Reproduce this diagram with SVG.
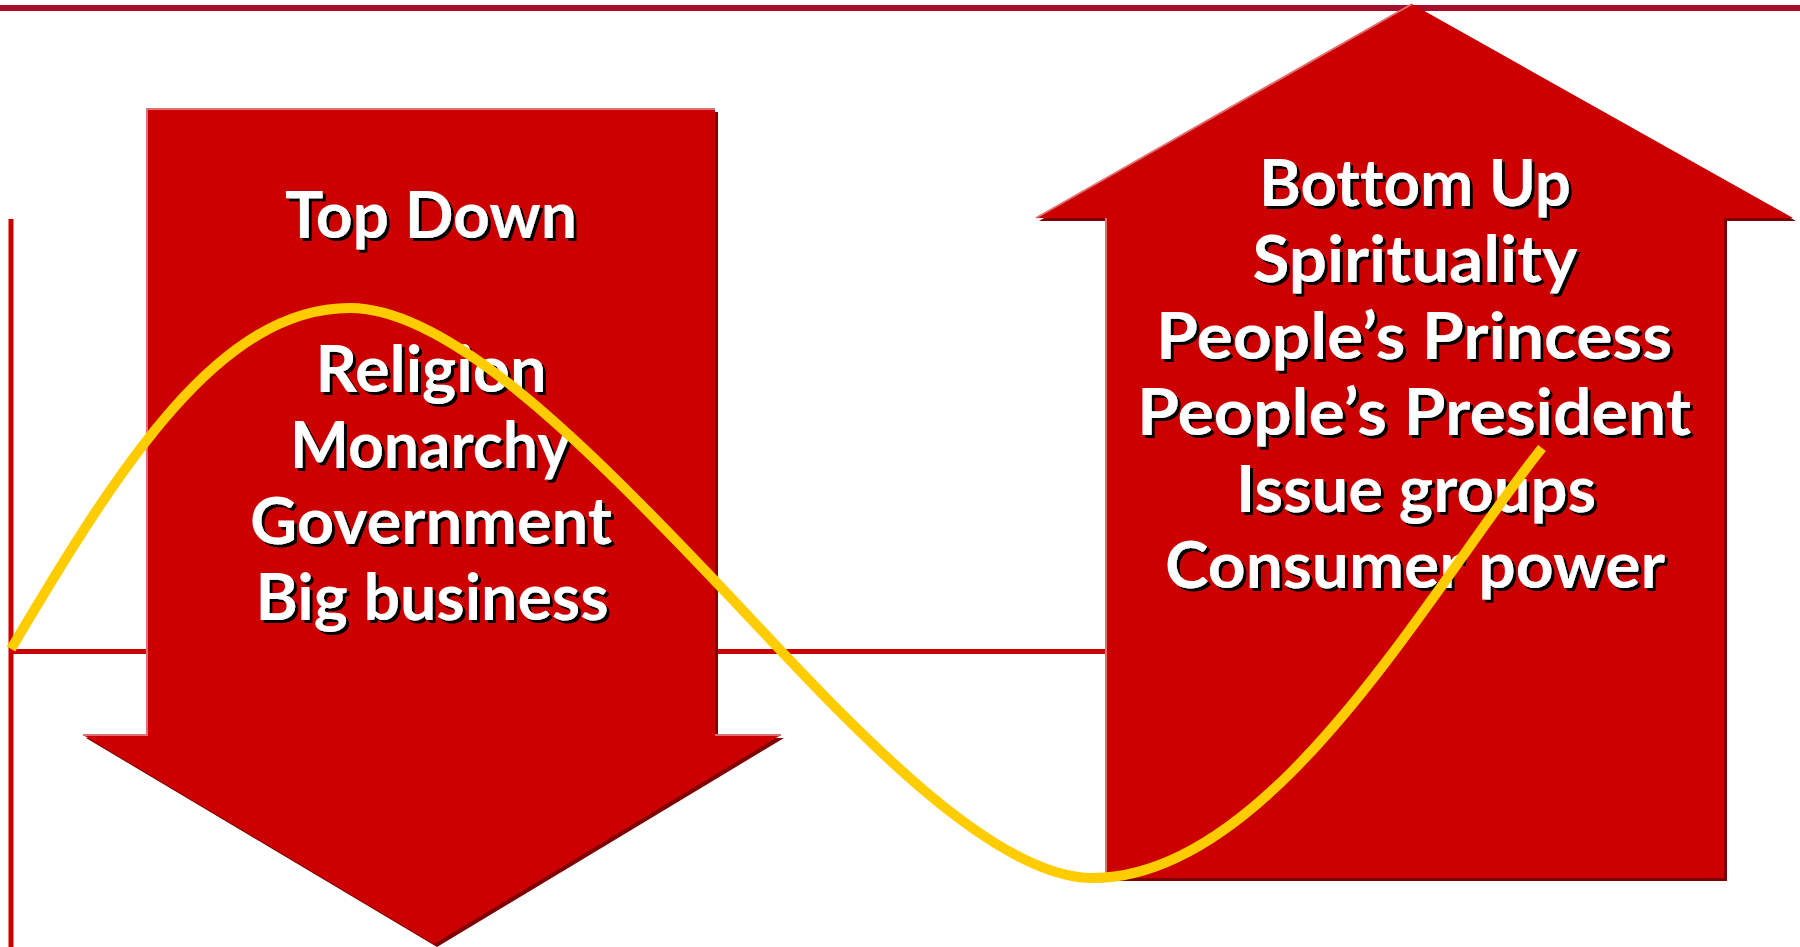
<svg xmlns="http://www.w3.org/2000/svg" width="1800" height="947" viewBox="0 0 1800 947">
  <defs>
    <filter id="txtShadow" x="-5%" y="-20%" width="110%" height="140%">
      <feDropShadow dx="3" dy="3" stdDeviation="0" flood-color="#000000" flood-opacity="1"/>
    </filter>
    <style>
      .bg { fill: #ffffff; }
      .rule-top { stroke: #A50F2D; stroke-width: 6; fill: none; }
      .rule { stroke: #CC0000; stroke-width: 5; fill: none; }
      .arrow-shadow { fill: #7F0000; }
      .arrow-body { fill: #CC0000; }
      .arrow-light { fill: none; stroke: #E07070; stroke-width: 2; }
      .label { font-family: Lato, "Noto Sans", "DejaVu Sans", sans-serif; font-weight: bold; font-size: 65px; fill: #ffffff; text-anchor: middle; font-variant-ligatures: none; }
      .wave { fill: none; stroke: #FFCC00; stroke-width: 10; stroke-linecap: butt; stroke-linejoin: round; }
    </style>
  </defs>

  <rect class="bg" x="0" y="0" width="1800" height="947"/>

  <!-- axes / guide rules -->
  <g id="rules">
    <line class="rule-top" x1="0" y1="8" x2="1800" y2="8"/>
    <line class="rule" x1="11" y1="219" x2="11" y2="947"/>
    <line class="rule" x1="11" y1="651.5" x2="1110" y2="651.5"/>
  </g>

  <!-- downward arrow -->
  <g id="top-down">
    <polygon class="arrow-shadow" transform="translate(3,3)" points="147,109 715,109 715,735 781,735 434,944 83,735 147,735"/>
    <polygon class="arrow-body" points="147,109 715,109 715,735 781,735 434,944 83,735 147,735"/>
    <path class="arrow-light" d="M83,735 H147 V109 H715 M715,735 H781"/>
    <g filter="url(#txtShadow)">
      <text class="label" x="431" y="238" textLength="292" lengthAdjust="spacingAndGlyphs">Top Down</text>
      <text class="label" x="431" y="392" textLength="231" lengthAdjust="spacingAndGlyphs">Religion</text>
      <text class="label" x="430" y="468" textLength="280" lengthAdjust="spacingAndGlyphs">Monarchy</text>
      <text class="label" x="431" y="544" textLength="362" lengthAdjust="spacingAndGlyphs">Government</text>
      <text class="label" x="432" y="620" textLength="353" lengthAdjust="spacingAndGlyphs">Big business</text>
    </g>
  </g>

  <!-- upward arrow -->
  <g id="bottom-up">
    <polygon class="arrow-shadow" transform="translate(3,3)" points="1412,4 1793,218 1724,218 1724,878 1106,878 1106,218 1036,218"/>
    <polygon class="arrow-body" points="1412,4 1793,218 1724,218 1724,878 1106,878 1106,218 1036,218"/>
    <path class="arrow-light" d="M1106,878 V218 M1036,218 L1412,4"/>
    <g filter="url(#txtShadow)">
      <text class="label" x="1415" y="206" textLength="312" lengthAdjust="spacingAndGlyphs">Bottom Up</text>
      <text class="label" x="1415" y="282" textLength="325" lengthAdjust="spacingAndGlyphs">Spirituality</text>
      <text class="label" x="1414" y="359" textLength="516" lengthAdjust="spacingAndGlyphs">People’s Princess</text>
      <text class="label" x="1414" y="435" textLength="554" lengthAdjust="spacingAndGlyphs">People’s President</text>
      <text class="label" x="1416" y="512" textLength="360" lengthAdjust="spacingAndGlyphs">Issue groups</text>
      <text class="label" x="1415" y="588" textLength="500" lengthAdjust="spacingAndGlyphs">Consumer power</text>
    </g>
  </g>

  <!-- wave curve -->
  <g id="connectors">
    <path class="wave" d="M11,649 C121,463 220,308 350,308 C450,308 587,446.5 717,583 C827,698.5 983,878 1093,878 C1273,878 1432,585.5 1542,448"/>
  </g>
</svg>
